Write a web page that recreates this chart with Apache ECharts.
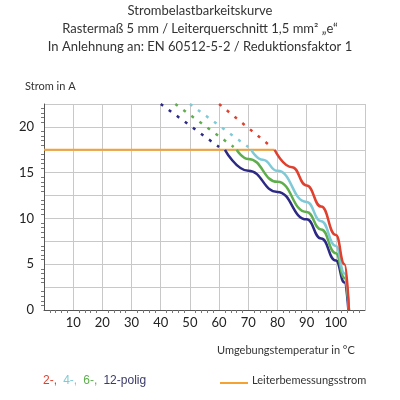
<!DOCTYPE html><html><head><meta charset="utf-8"><script src="https://cdn.jsdelivr.net/npm/echarts@6/dist/echarts.min.js"></script></head><body style="margin:0"><div id="c" style="width:400px;height:400px"></div><script>
const xTicks=[10,20,30,40,50,60,70,80,90,100,105];
const rated=[[0,17.5],[79,17.5]];
const s2=[[79,17.5],[85,15.6],[90,13.6],[95,11.3],[100,8.2],[103,5],[104.5,0]];
const s4=[[71,17.5],[75,16.4],[80,15.2],[90,11.8],[95,9.7],[100,7],[103,4],[104.5,0]];
const s6=[[66,17.5],[70,16.5],[80,14],[90,10.7],[95,8.8],[100,6.2],[103,3.5],[104.5,0]];
const s12=[[62,17.5],[70,15.2],[80,12.9],[90,9.9],[95,7.8],[100,5.4],[103,3],[104.3,0]];
const d2=[[60,22.5],[78,17.8]],d4=[[50,22.5],[70,17.8]],d6=[[45,22.5],[65,17.8]],d12=[[40,22.5],[60,17.8]];
const C={r:'#e0402e',c:'#7fcad6',g:'#5fae4e',b:'#2c2a84',o:'#f5a233'};
const ch=echarts.init(document.getElementById('c'));
const F='Lato, sans-serif';
function ln(d,c){return{type:'line',data:d,smooth:0.5,smoothMonotone:'x',symbol:'none',lineStyle:{color:c,width:2.5},z:3};}
function ds(d,c){return{type:'line',data:d,symbol:'none',lineStyle:{color:c,width:2.5,type:[3,7]},z:3};}
ch.setOption({animation:false,
grid:{left:44,right:35,top:104,bottom:90},
xAxis:{type:'value',min:0,max:110,interval:10,axisLine:{lineStyle:{color:'#555'}},axisTick:{show:false},minorTick:{show:true,splitNumber:5,length:3,lineStyle:{color:'#777'}},
 splitLine:{lineStyle:{color:'#c8c8c8'}},axisLabel:{customValues:xTicks,color:'#222',fontSize:13,fontFamily:F,margin:6}},
yAxis:{type:'value',min:0,max:22.5,interval:2.5,axisLine:{show:true,lineStyle:{color:'#555'}},axisTick:{show:false},minorTick:{show:true,splitNumber:5,length:3,lineStyle:{color:'#777'}},
 splitLine:{lineStyle:{color:'#c8c8c8'}},axisLabel:{formatter:v=>v%5===0?String(v):'',color:'#222',fontSize:13,fontFamily:F,margin:10}},
series:[{type:'line',data:rated,symbol:'none',lineStyle:{color:C.o,width:2},z:2},
ds(d2,C.r),ds(d4,C.c),ds(d6,C.g),ds(d12,C.b),ln(s12,C.b),ln(s6,C.g),ln(s4,C.c),ln(s2,C.r)],
graphic:[
{type:'text',left:'center',top:4,style:{text:'Strombelastbarkeitskurve',fontSize:13,fontFamily:F,fill:'#333'}},
{type:'text',left:'center',top:22,style:{text:'Rastermaß 5 mm / Leiterquerschnitt 1,5 mm² „e“',fontSize:13,fontFamily:F,fill:'#333'}},
{type:'text',left:'center',top:40,style:{text:'In Anlehnung an: EN 60512-5-2 / Reduktionsfaktor 1',fontSize:13,fontFamily:F,fill:'#333'}},
{type:'text',left:25,top:81,style:{text:'Strom in A',fontSize:11,fontFamily:F,fill:'#333'}},
{type:'text',left:217,top:345,style:{text:'Umgebungstemperatur in °C',fontSize:11,fontFamily:F,fill:'#333'}},
{type:'text',left:43,top:375,style:{rich:{r:{fill:C.r,fontSize:12},c:{fill:C.c,fontSize:12},g:{fill:C.g,fontSize:12},b:{fill:'#3a3a6a',fontSize:12}},text:'{r|2-,}  {c|4-,}  {g|6-,}  {b|12-polig}',fontFamily:F}},
{type:'line',shape:{x1:220,y1:383,x2:248,y2:383},style:{stroke:C.o,lineWidth:2}},
{type:'text',left:252,top:375,style:{text:'Leiterbemessungsstrom',fontSize:11,fontFamily:F,fill:'#333'}}
]});
</script></body></html>
